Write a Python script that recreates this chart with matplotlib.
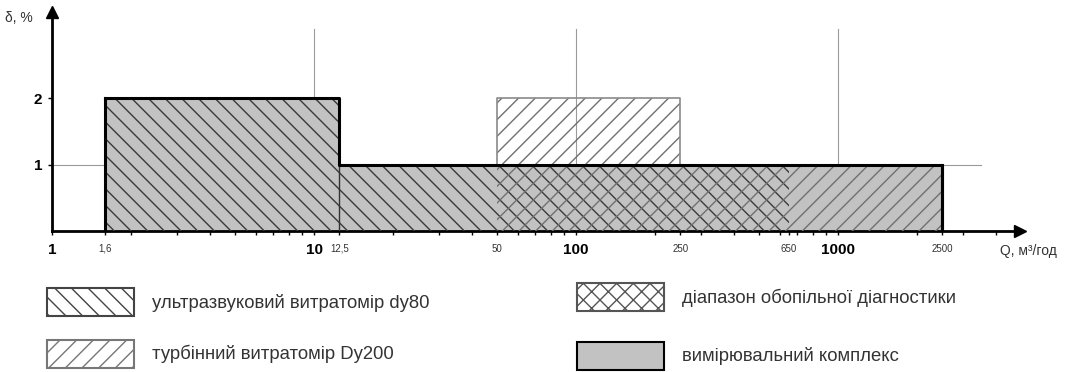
import matplotlib
matplotlib.use('Agg')
import matplotlib.pyplot as plt
from matplotlib.patches import Patch

plt.rcParams['font.family'] = ['Liberation Sans', 'DejaVu Sans']
plt.rcParams['hatch.linewidth'] = 1.0

# витрата Q, м3/год та похибка δ, %
ultra_q = [1.6, 12.5, 650]
ultra_d = [2, 1, 1]
turb_q = [50, 250, 2500]
turb_d = [2, 1, 1]
complex_q = [1.6, 12.5, 2500]
complex_d = [2, 1, 1]

tick_vals = [1, 1.6, 10, 12.5, 50, 100, 250, 650, 1000, 2500]
tick_text = ['1', '1,6', '10', '12,5', '50', '100', '250', '650', '1000', '2500']
bold_ticks = ['1', '10', '100', '1000']
grid_q = [10, 100, 1000]

labels = ['ультразвуковий витратомір dy80', 'турбінний витратомір Dy200',
          'діапазон обопільної діагностики', 'вимірювальний комплекс']

fig = plt.figure(figsize=(10.65, 3.72), dpi=100)
ax = fig.add_axes([52 / 1065, 141 / 372, 968 / 1065, 219 / 372])
ax.set_xscale('log')
ax.set_xlim(1, 4950)
ax.set_ylim(0, 3.3)

# сітка
for q in grid_q:
    ax.plot([q, q], [0, 3.05], color='#9a9a9a', lw=0.8, zorder=1)
ax.plot([1, 3500], [1, 1], color='#9a9a9a', lw=0.8, zorder=1)

# вимірювальний комплекс
ax.fill_between(complex_q, complex_d, step='post', facecolor='#c2c2c2', edgecolor='none', zorder=2)

# ультразвуковий
ax.fill_between(ultra_q, ultra_d, step='post', facecolor='none', edgecolor='#3a3a3a',
                hatch='\\\\', linewidth=0, zorder=3)
# турбінний
ax.fill_between(turb_q, turb_d, step='post', facecolor='none', edgecolor='#707070',
                hatch='//', linewidth=0, zorder=3)
ax.plot([turb_q[0], turb_q[0], turb_q[1], turb_q[1]], [1, turb_d[0], turb_d[0], 1],
        color='#8a8a8a', lw=1.2, zorder=4)

# контур комплексу
ax.step(complex_q + [complex_q[-1]], complex_d + [0], where='post', color='black', lw=2.2, zorder=5)
ax.plot([complex_q[0], complex_q[0]], [0, complex_d[0]], color='black', lw=2.2, zorder=5)
ax.plot([complex_q[-1], complex_q[-1]], [0, complex_d[-1]], color='black', lw=2.2, zorder=5)
ax.plot([complex_q[1], complex_q[1]], [0, complex_d[1]], color='#333', lw=1.0, zorder=4)

# осі
for s in ['top', 'right']:
    ax.spines[s].set_visible(False)
ax.spines['left'].set_linewidth(2)
ax.spines['bottom'].set_linewidth(2)
ax.plot(1, 3.3, marker='^', color='black', markersize=9, clip_on=False, zorder=6)
ax.plot(4950, 0, marker='>', color='black', markersize=9, clip_on=False, zorder=6)

ax.set_xticks(tick_vals)
ax.set_xticklabels(tick_text)
ax.minorticks_on()
ax.tick_params(axis='x', which='both', direction='out', length=3, width=1, pad=6)
for lab in ax.get_xticklabels():
    if lab.get_text() in bold_ticks:
        lab.set_fontsize(11)
        lab.set_fontweight('bold')
    else:
        lab.set_fontsize(7)
        lab.set_color('#333')
ax.set_yticks([1, 2])
ax.set_yticklabels(['1', '2'], fontsize=11, fontweight='bold')
ax.yaxis.set_minor_locator(plt.NullLocator())
ax.tick_params(axis='y', length=3, width=1, pad=4)

fig.text(5 / 1065, 1 - 18 / 372, 'δ, %', fontsize=10, va='center', ha='left', color='#333')
fig.text(1000 / 1065, 1 - 251 / 372, 'Q, м³/год', fontsize=10, va='center', ha='left', color='#333')

# легенда
h_ultra = Patch(facecolor='white', edgecolor='#444', hatch='\\\\', linewidth=1.5)
h_turb = Patch(facecolor='white', edgecolor='#777', hatch='//', linewidth=1.5)
h_both = Patch(facecolor='white', edgecolor='#555', hatch='xx', linewidth=1.5)
h_comp = Patch(facecolor='#c2c2c2', edgecolor='black', linewidth=1.5)

kw = dict(frameon=False, fontsize=13.3, handlelength=4.7, handleheight=1.96,
          handletextpad=1.0, borderaxespad=0, borderpad=0)
leg1 = fig.legend([h_ultra, h_turb], labels[:2], loc='upper left', labelspacing=1.27,
                  bbox_to_anchor=(47 / 1065, 1 - 288 / 372), **kw)
leg2 = fig.legend([h_both, h_comp], labels[2:], loc='upper left', labelspacing=1.65,
                  bbox_to_anchor=(577 / 1065, 1 - 283 / 372), **kw)
for leg in [leg1, leg2]:
    for t in leg.get_texts():
        t.set_color('#333')

fig.savefig('out.png', dpi=100)
